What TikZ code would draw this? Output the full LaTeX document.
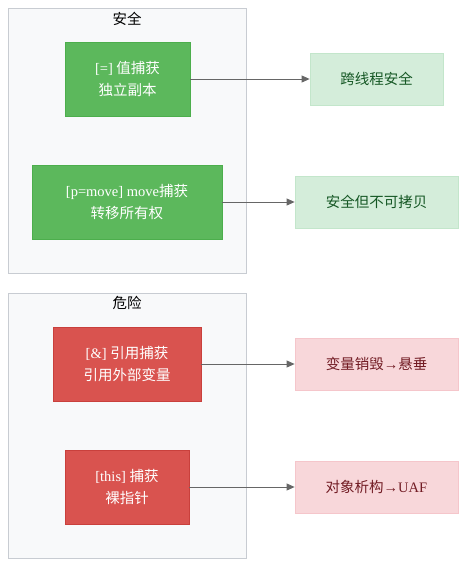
\documentclass[tikz,border=0pt]{standalone}
\usepackage{fontspec}
\setmainfont{Liberation Serif}
\newfontfamily\cjk{Noto Sans CJK SC}
\usetikzlibrary{arrows.meta,positioning}
\definecolor{okFill}{HTML}{5CB85C}
\definecolor{okLine}{HTML}{4CAE4C}
\definecolor{badFill}{HTML}{D9534F}
\definecolor{badLine}{HTML}{C9403C}
\definecolor{okSoft}{HTML}{D4EDDA}
\definecolor{okSoftLine}{HTML}{C3E6CB}
\definecolor{okText}{HTML}{155724}
\definecolor{badSoft}{HTML}{F8D7DA}
\definecolor{badSoftLine}{HTML}{F5C6CB}
\definecolor{badText}{HTML}{721C24}
\definecolor{groupFill}{HTML}{F8F9FA}
\definecolor{groupLine}{HTML}{C8CCD2}
\definecolor{arrGrey}{HTML}{666666}
\newcommand{\zh}[1]{{\cjk #1}}

\begin{document}
\begin{tikzpicture}[
    x=1pt, y=-1pt,
    font=\fontsize{14.5}{22}\selectfont,
    group/.style={draw=groupLine, fill=groupFill, line width=0.8pt,
                  minimum width=238pt, minimum height=265pt, inner sep=0pt},
    grouplabel/.style={black, inner sep=0pt},
    capture/.style={align=center, text=white, minimum height=74pt,
                    inner sep=0pt, line width=0.8pt},
    okbox/.style={capture, fill=okFill, draw=okLine},
    badbox/.style={capture, fill=badFill, draw=badLine},
    result/.style={align=center, minimum height=52pt, minimum width=163pt,
                   inner sep=0pt, line width=0.8pt},
    okres/.style={result, fill=okSoft, draw=okSoftLine, text=okText},
    badres/.style={result, fill=badSoft, draw=badSoftLine, text=badText},
    arr/.style={-{Triangle[length=8pt,width=7pt]}, arrGrey, line width=0.8pt}
]
\useasboundingbox (0,0) rectangle (474,576);

% -- group 1: safe captures
\node[group] (safe) at (127,140.5) {};
\node[grouplabel] (safelabel) at (127,19) {\zh{安全}};
\node[okbox, minimum width=125pt] (byval) at (127.5,79)
  {[=] \zh{值捕获}\\\zh{独立副本}};
\node[okbox, minimum width=190pt] (bymove) at (127,202)
  {[p=move] move\zh{捕获}\\\zh{转移所有权}};

% -- group 2: dangerous captures
\node[group] (danger) at (127,425.5) {};
\node[grouplabel] (dangerlabel) at (127,303) {\zh{危险}};
\node[badbox, minimum width=148pt] (byref) at (127,364)
  {[\&] \zh{引用捕获}\\\zh{引用外部变量}};
\node[badbox, minimum width=124pt] (bythis) at (127,487)
  {[this] \zh{捕获}\\\zh{裸指针}};

% -- outcomes
\node[okres, minimum width=133pt] (threadsafe) at (376.5,79) {\zh{跨线程安全}};
\node[okres] (nocopy) at (376.5,202) {\zh{安全但不可拷贝}};
\node[badres] (dangling) at (376.5,364) {\zh{变量销毁}→\zh{悬垂}};
\node[badres] (uaf) at (376.5,487) {\zh{对象析构}→UAF};

% -- arrows
\draw[arr] (byval) -- (threadsafe);
\draw[arr] (bymove) -- (nocopy);
\draw[arr] (byref) -- (dangling);
\draw[arr] (bythis) -- (uaf);

\end{tikzpicture}
\end{document}
